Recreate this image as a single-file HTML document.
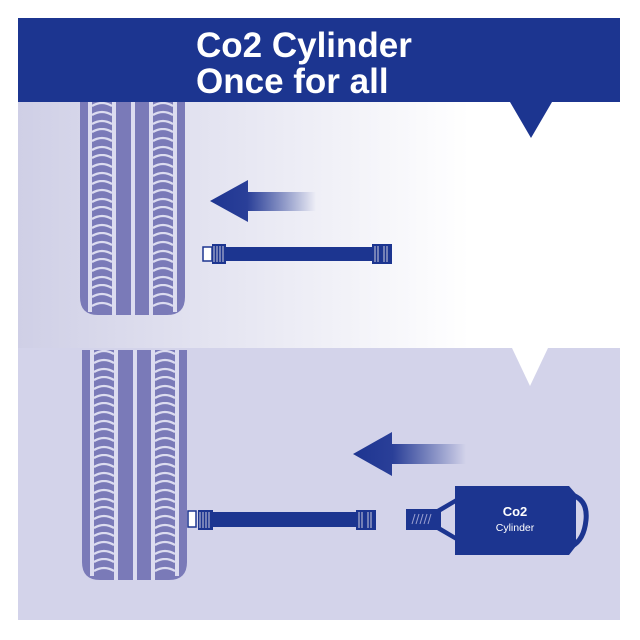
<!DOCTYPE html>
<html><head><style>
body{margin:0;background:#fff;width:640px;height:640px;position:relative;overflow:hidden;font-family:"Liberation Sans",sans-serif}
</style></head><body>
<svg width="640" height="640" viewBox="0 0 640 640" style="position:absolute;left:0;top:0">
<defs>
<linearGradient id="tg" x1="0" x2="1" y1="0" y2="0">
<stop offset="0" stop-color="#cfcfe6"/><stop offset="0.45" stop-color="#ececf5"/><stop offset="0.75" stop-color="#ffffff"/><stop offset="1" stop-color="#ffffff"/></linearGradient>
<linearGradient id="ag" x1="0" x2="1"><stop offset="0" stop-color="#1e3591"/><stop offset="0.35" stop-color="#2a3f98"/><stop offset="1" stop-color="#1e3591" stop-opacity="0"/></linearGradient>
<pattern id="tread" width="105" height="26" patternUnits="userSpaceOnUse">
<path d="M12 4 Q22 -2 32 4 M12 13 Q22 7 32 13 M12 22 Q22 16 32 22" stroke="#dcdcf0" stroke-width="2.2" fill="none"/>
<path d="M73 4 Q83 -2 93 4 M73 13 Q83 7 93 13 M73 22 Q83 16 93 22" stroke="#dcdcf0" stroke-width="2.2" fill="none"/>
</pattern>
</defs>
<rect x="18" y="102" width="602" height="246" fill="url(#tg)"/>
<rect x="18" y="348" width="602" height="272" fill="#d3d3ea"/>
<polygon points="512,348 548,348 530,386" fill="#fff"/>
<rect x="18" y="18" width="602" height="84" fill="#1c3590"/>
<polygon points="510,102 552,102 531,138" fill="#1c3590"/>
<text x="196" y="57" font-size="35" font-weight="bold" fill="#fff">Co2 Cylinder</text>
<text x="196" y="93" font-size="35" font-weight="bold" fill="#fff">Once for all</text>
<!-- tire top -->
<g transform="translate(80,102)">
<path d="M0 0 H105 V195 Q105 213 87 213 H18 Q0 213 0 195 Z" fill="#7a7ab8"/>
<rect x="0" y="0" width="105" height="205" fill="url(#tread)"/>
<rect x="8" y="0" width="4" height="210" fill="#dcdcf0"/>
<rect x="32" y="0" width="4" height="213" fill="#dcdcf0"/>
<rect x="51" y="0" width="4" height="213" fill="#dcdcf0"/>
<rect x="69" y="0" width="4" height="213" fill="#dcdcf0"/>
<rect x="93" y="0" width="4" height="210" fill="#dcdcf0"/>
</g>
<!-- tire bottom -->
<g transform="translate(82,350)">
<path d="M0 0 H105 V212 Q105 230 87 230 H18 Q0 230 0 212 Z" fill="#7a7ab8"/>
<rect x="0" y="0" width="105" height="222" fill="url(#tread)"/>
<rect x="8" y="0" width="4" height="226" fill="#dcdcf0"/>
<rect x="32" y="0" width="4" height="230" fill="#dcdcf0"/>
<rect x="51" y="0" width="4" height="230" fill="#dcdcf0"/>
<rect x="69" y="0" width="4" height="230" fill="#dcdcf0"/>
<rect x="93" y="0" width="4" height="226" fill="#dcdcf0"/>
</g>
<!-- arrows -->
<polygon points="210,201 248,180 248,192 316,192 316,211 248,211 248,222" fill="url(#ag)"/>
<polygon points="353,454 392,432 392,444 466,444 466,464 392,464 392,476" fill="url(#ag)"/>
<!-- hose top -->
<rect x="203" y="247" width="9" height="14" fill="#fff" stroke="#1c3590" stroke-width="1.5"/>
<rect x="212" y="244" width="14" height="20" fill="#1c3590"/>
<path d="M214 246v16M217 246v16M220 246v16M223 246v16" stroke="#ccd" stroke-width="1"/>
<rect x="226" y="247" width="150" height="14" fill="#1c3590"/>
<rect x="372" y="244" width="20" height="20" fill="#1c3590"/>
<path d="M375 246v16M378 246v16M384 246v16M387 246v16" stroke="#ccd" stroke-width="1"/>
<!-- hose bottom -->
<rect x="188" y="511" width="8" height="16" fill="#fff" stroke="#1c3590" stroke-width="1.5"/>
<rect x="198" y="510" width="15" height="20" fill="#1c3590"/>
<path d="M200 512v16M203 512v16M206 512v16M209 512v16" stroke="#ccd" stroke-width="1"/>
<rect x="213" y="512" width="145" height="15" fill="#1c3590"/>
<rect x="356" y="510" width="20" height="20" fill="#1c3590"/>
<path d="M359 512v16M362 512v16M368 512v16M371 512v16" stroke="#ccd" stroke-width="1"/>
<!-- cylinder -->
<rect x="406" y="509" width="31" height="21" fill="#1c3590"/>
<path d="M412 524l3-10M416 524l3-10M420 524l3-10M424 524l3-10M428 524l3-10" stroke="#9aa0d0" stroke-width="1"/>
<path d="M437 509 L456 498 V541 L437 530 Z" fill="#1c3590"/>
<path d="M441 512 L456 503 V536 L441 527 Z" fill="#d3d3ea"/>
<path d="M455 486 H569 L576 494 V546 L569 555 H455 Z" fill="#1c3590"/>
<path d="M572 495 Q588 500 586 520 Q584 540 572 546" stroke="#1c3590" stroke-width="5" fill="none"/>
<text x="515" y="516" text-anchor="middle" font-size="13" font-weight="bold" fill="#fff">Co2</text>
<text x="515" y="531" text-anchor="middle" font-size="10.5" fill="#fff">Cylinder</text>
</svg>
</body></html>
